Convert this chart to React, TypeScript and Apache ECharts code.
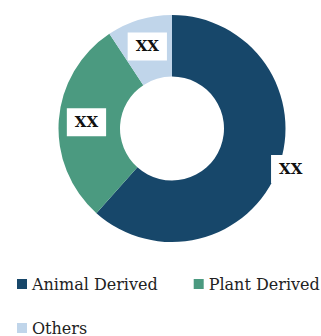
import React, { useEffect, useRef } from "react";
import * as echarts from "echarts";

const categories = ["Animal Derived", "Plant Derived", "Others"];
const values = [61.6, 29.1, 9.3];
const labels = ["XX", "XX", "XX"];
const colors = ["#17476a", "#4b9a80", "#c0d5ea"];

export default function App() {
  const ref = useRef<HTMLDivElement>(null);
  useEffect(() => {
    document.body.style.margin = "0";
    const chart = echarts.init(ref.current!, null, { renderer: "svg" });
    const labelBox = {
      show: true,
      formatter: (p: any) => labels[p.dataIndex],
      fontFamily: "DejaVu Serif",
      fontWeight: "bold",
      fontSize: 15,
      lineHeight: 12,
      color: "#111",
      backgroundColor: "#ffffff",
      padding: [8, 8, 8, 8],
    };
    const legendText = { fontFamily: "DejaVu Serif", fontSize: 16, color: "#222" };
    chart.setOption({
      animation: false,
      color: colors,
      legend: [
        {
          data: categories.slice(0, 2),
          left: 17,
          top: 276,
          width: 320,
          padding: 0,
          icon: "rect",
          itemWidth: 10,
          itemHeight: 10,
          itemGap: 36,
          textStyle: legendText,
        },
        {
          data: categories.slice(2),
          left: 17,
          top: 320,
          padding: 0,
          icon: "rect",
          itemWidth: 10,
          itemHeight: 10,
          textStyle: legendText,
        },
      ],
      series: [
        {
          type: "pie",
          center: [172, 128.5],
          radius: [52, 113.5],
          startAngle: 90,
          clockwise: true,
          label: { ...labelBox, position: "inside" },
          labelLine: { show: false },
          emphasis: { disabled: true },
          data: categories.map((name, i) =>
            i === 0
              ? {
                  name,
                  value: values[i],
                  label: { ...labelBox, position: "outside", distanceToLabelLine: -7 },
                  labelLine: { show: false, length: 0, length2: 0 },
                }
              : { name, value: values[i] }
          ),
        },
      ],
    });
    return () => chart.dispose();
  }, []);
  return <div ref={ref} style={{ width: 321, height: 336 }} />;
}
